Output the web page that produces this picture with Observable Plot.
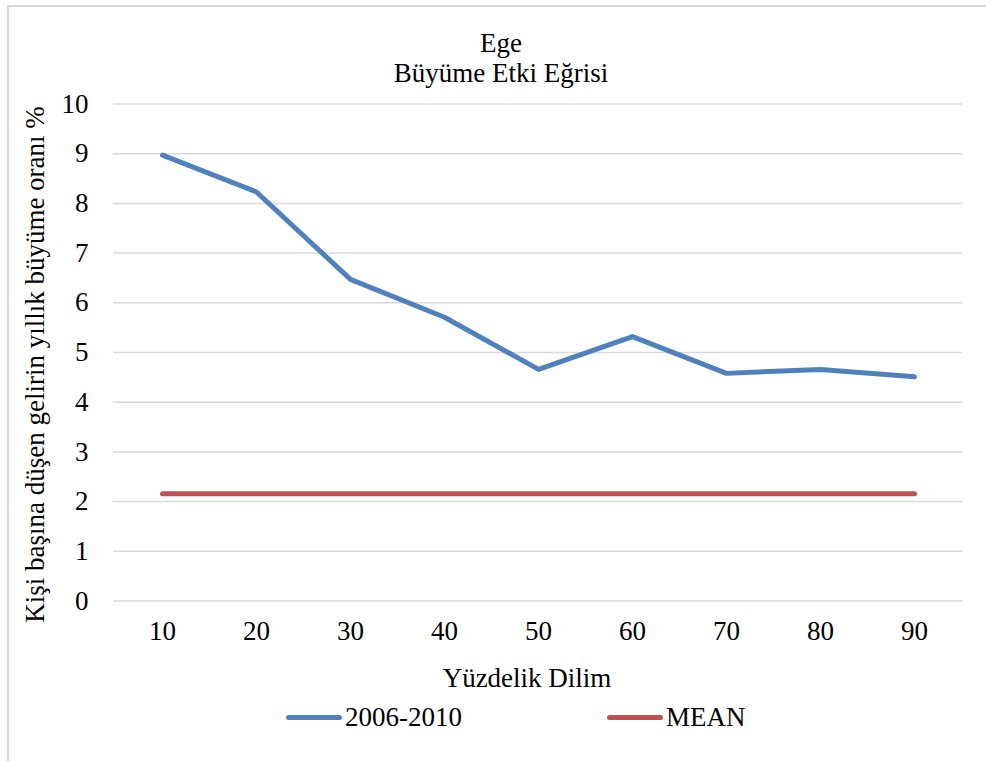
<!DOCTYPE html>
<html>
<head>
<meta charset="utf-8">
<script src="https://cdn.jsdelivr.net/npm/d3@7"></script>
<script src="https://cdn.jsdelivr.net/npm/@observablehq/plot@0.6"></script>
<style>
  body { margin: 0; background: #fff; }
  #wrap { position: relative; width: 986px; height: 761px; overflow: hidden; background: #fff;
          font-family: "Liberation Serif", "Times New Roman", serif; color: #000; }
  #frame { position: absolute; left: 7px; top: 5px; width: 1200px; height: 1000px;
           border: 2px solid #d9d9d9; box-sizing: border-box; }
  #chart { position: absolute; left: 0; top: 0; }
  #title { position: absolute; left: 1px; width: 1000px; top: 28px; text-align: center;
           font-size: 27px; line-height: 30px; }
  .leg { position: absolute; top: 701px; height: 32px; display: flex; align-items: center; font-size: 27px; }
  .sw { display: inline-block; width: 56px; height: 5px; border-radius: 3px; margin-right: 3px; }
</style>
</head>
<body>
<div id="wrap">
  <div id="frame"></div>
  <div id="chart"></div>
  <div id="title"></div>
  <div id="legend"></div>
</div>
<script>
const titleLines = ["Ege", "Büyüme Etki Eğrisi"];
const percentiles = ["10", "20", "30", "40", "50", "60", "70", "80", "90"];
const growth20062010 = [8.97, 8.23, 6.47, 5.71, 4.66, 5.32, 4.58, 4.66, 4.51];
const meanValues = [2.16, 2.16, 2.16, 2.16, 2.16, 2.16, 2.16, 2.16, 2.16];
const seriesNames = ["2006-2010", "MEAN"];
const seriesColors = ["#4F81BD", "#C0504D"];
const yTicks = [0, 1, 2, 3, 4, 5, 6, 7, 8, 9, 10];
const yLabel = "Kişi başına düşen gelirin yıllık büyüme oranı %";
const xLabel = "Yüzdelik Dilim";

const rows = [];
percentiles.forEach((p, i) => {
  rows.push({ p, v: growth20062010[i], s: seriesNames[0] });
});
percentiles.forEach((p, i) => {
  rows.push({ p, v: meanValues[i], s: seriesNames[1] });
});

const chart = Plot.plot({
  width: 986,
  height: 761,
  marginTop: 103.5,
  marginBottom: 160.5,
  marginLeft: 113,
  marginRight: 24,
  style: { fontFamily: "'Liberation Serif', 'Times New Roman', serif", fontSize: "27px", color: "#000", background: "transparent", overflow: "visible" },
  x: { type: "point", domain: percentiles, padding: 0.5 },
  y: { domain: [0, 10] },
  color: { domain: seriesNames, range: seriesColors },
  marks: [
    Plot.ruleY(yTicks, { stroke: "#d9d9d9", strokeWidth: 1.5 }),
    Plot.axisY({ ticks: yTicks, tickSize: 0, tickPadding: 25, fontSize: 27, label: null }),
    Plot.axisX({ tickSize: 0, tickPadding: 20, fontSize: 27, label: null }),
    Plot.text([yLabel], { frameAnchor: "left", rotate: -90, dx: -78, dy: 12,
                          textAnchor: "middle", lineAnchor: "middle", fontSize: 27, fill: "#000" }),
    Plot.text([xLabel], { frameAnchor: "bottom", dx: -11, dy: 77,
                          textAnchor: "middle", lineAnchor: "middle", fontSize: 27, fill: "#000" }),
    Plot.line(rows, { x: "p", y: "v", z: "s", stroke: "s", strokeWidth: 5,
                      strokeLinecap: "round", strokeLinejoin: "round" })
  ]
});
document.getElementById("chart").appendChild(chart);

document.getElementById("title").innerHTML = titleLines.join("<br>");

const legendPos = [286, 607];
const legend = document.getElementById("legend");
seriesNames.forEach((name, i) => {
  const item = document.createElement("div");
  item.className = "leg";
  item.style.left = legendPos[i] + "px";
  const sw = document.createElement("span");
  sw.className = "sw";
  sw.style.background = seriesColors[i];
  item.appendChild(sw);
  item.appendChild(document.createTextNode(name));
  legend.appendChild(item);
});
</script>
</body>
</html>
